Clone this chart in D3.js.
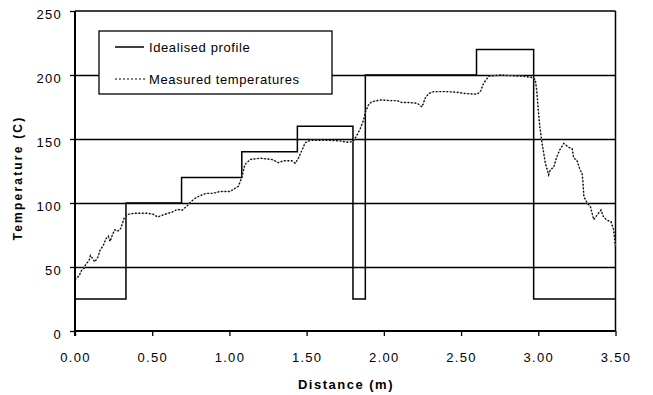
<!doctype html>
<html>
<head>
<meta charset="UTF-8">
<title>Temperature profile</title>
<script src="https://d3js.org/d3.v7.min.js"></script>
<style>
  body { margin: 0; background: #fff; }
  * { font-family: "Liberation Sans", Arial, sans-serif; }
</style>
</head>
<body>
<svg id="chart" width="653" height="395"></svg>
<script>
// idealised step profile (value holds until next x)
var idealX = [0, 0.33, 0.69, 1.08, 1.44, 1.80, 1.88, 2.60, 2.97, 3.50];
var idealY = [25, 100, 120, 140, 160, 25, 200, 220, 25, 25];

// measured temperatures
var measX = [0.00, 0.026, 0.041, 0.058, 0.069, 0.091, 0.10, 0.112, 0.128, 0.149, 0.162, 0.184, 0.199, 0.216, 0.227,
  0.242, 0.257, 0.274, 0.292, 0.307, 0.318, 0.339, 0.382, 0.469, 0.512, 0.534, 0.577, 0.631, 0.663, 0.696,
  0.728, 0.75, 0.782, 0.815, 0.847, 0.89, 0.94, 1.005, 1.037, 1.058, 1.08, 1.10, 1.134, 1.199, 1.275,
  1.318, 1.35, 1.404, 1.426, 1.447, 1.469, 1.49, 1.523, 1.63, 1.717, 1.76, 1.80, 1.826, 1.847, 1.869,
  1.88, 1.90, 1.92, 1.977, 2.04, 2.085, 2.117, 2.16, 2.215, 2.247, 2.268, 2.29, 2.322, 2.409, 2.474,
  2.527, 2.603, 2.625, 2.646, 2.679, 2.754, 2.82, 2.905, 2.96, 2.98, 2.99, 3.00, 3.01, 3.025, 3.035,
  3.046, 3.067, 3.078, 3.10, 3.117, 3.139, 3.165, 3.197, 3.219, 3.23, 3.25, 3.27, 3.284, 3.29, 3.295,
  3.317, 3.338, 3.359, 3.38, 3.406, 3.423, 3.445, 3.471, 3.488, 3.499];
var measY = [40, 43, 47, 49, 52, 55, 59, 57, 54, 58, 63, 67, 72, 74, 70,
  75, 79, 78, 79, 84, 88, 91, 92, 92, 91, 89, 91, 93, 95, 94.5,
  98, 101, 104, 106, 107.5, 107.5, 109, 109, 111.5, 113, 120, 130, 134, 135, 134,
  131.5, 133, 133, 131, 135, 141, 147, 149, 149, 148.5, 147.5, 148, 153, 158, 165,
  171, 176.5, 179, 180.5, 180, 180, 178.5, 178.5, 178, 175, 182, 185.5, 187, 187, 186.5,
  185.5, 185, 187, 193.5, 199, 200, 199.5, 199, 198, 196.5, 188, 172.5, 159.5, 146.5, 139,
  131, 122, 126, 128, 135, 141.5, 146.5, 143.5, 142.5, 135, 133.5, 126, 123, 115.5, 105,
  100, 97, 87, 90.5, 94.5, 89, 86.5, 85.5, 79, 66];

var yTicks = [0, 50, 100, 150, 200, 250];
var xTicks = [0, 0.5, 1, 1.5, 2, 2.5, 3, 3.5];
var seriesNames = ["Idealised profile", "Measured temperatures"];

var svg = d3.select("#chart");
var plotL = 75, plotR = 615.5, plotT = 11, plotB = 331;

var x = d3.scaleLinear().domain([0, 3.5]).range([plotL, plotR]);
var y = d3.scaleLinear().domain([0, 250]).range([plotB, plotT]);

// gridlines
svg.append("g").selectAll("line")
  .data(yTicks.filter(d => d > 0 && d < 250))
  .enter().append("line")
    .attr("x1", plotL).attr("x2", plotR)
    .attr("y1", d => y(d) + 0.5).attr("y2", d => y(d) + 0.5)
    .attr("stroke", "#000").attr("stroke-width", 1.3);

// frame top/right
svg.append("line").attr("x1", plotL).attr("x2", plotR).attr("y1", y(250)).attr("y2", y(250))
  .attr("stroke", "#000").attr("stroke-width", 1.5);
svg.append("line").attr("x1", plotR).attr("x2", plotR).attr("y1", y(250)).attr("y2", y(0))
  .attr("stroke", "#000").attr("stroke-width", 1.5);

// idealised
var idealData = idealX.map((d, i) => [d, idealY[i]]);
svg.append("path")
  .datum(idealData)
  .attr("fill", "none").attr("stroke", "#000").attr("stroke-width", 1.5)
  .attr("d", d3.line().x(d => x(d[0])).y(d => y(d[1])).curve(d3.curveStepAfter));

// measured
var measData = measX.map((d, i) => [d, measY[i]]);
var measLine = d3.line().x(d => x(d[0])).y(d => y(d[1]));
svg.append("path")
  .datum(measData)
  .attr("fill", "none").attr("stroke", "#999").attr("stroke-width", 0.8)
  .attr("d", measLine);
svg.append("path")
  .datum(measData)
  .attr("fill", "none").attr("stroke", "#000").attr("stroke-width", 1.4)
  .attr("stroke-dasharray", "1.5,2")
  .attr("d", measLine);

// axes
var yAxis = svg.append("g")
  .attr("transform", "translate(" + plotL + ",0)")
  .call(d3.axisLeft(y).tickValues(yTicks).tickSize(5).tickPadding(8).tickFormat(d3.format("d")));
var xAxis = svg.append("g")
  .attr("transform", "translate(0," + plotB + ")")
  .call(d3.axisBottom(x).tickValues(xTicks).tickSize(5).tickPadding(17).tickFormat(d3.format(".2f")));

[yAxis, xAxis].forEach(function(a) {
  a.select(".domain").attr("stroke", "#000").attr("stroke-width", 2);
  a.selectAll(".tick line").attr("stroke", "#000").attr("stroke-width", 1.3);
  a.selectAll("text").attr("font-size", 13).attr("fill", "#000")
    .attr("font-family", "'Liberation Sans', Arial, sans-serif")
    .attr("letter-spacing", "1.3px");
});
yAxis.selectAll("text").attr("dy", "0.55em");
yAxis.select(".domain").attr("d", "M0," + (plotB + 5) + "V" + plotT);
xAxis.select(".domain").attr("d", "M" + plotL + ",0H" + plotR);

// axis titles
svg.append("text")
  .attr("x", 346).attr("y", 389)
  .attr("text-anchor", "middle")
  .attr("font-size", 13).attr("font-weight", "bold")
  .attr("letter-spacing", "1.5px")
  .text("Distance (m)");
svg.append("text")
  .attr("transform", "translate(22,178) rotate(-90)")
  .attr("text-anchor", "middle")
  .attr("font-size", 12).attr("font-weight", "bold")
  .attr("letter-spacing", "2.2px")
  .text("Temperature (C)");

// legend
var lg = svg.append("g");
lg.append("rect")
  .attr("x", 99).attr("y", 31).attr("width", 233).attr("height", 63)
  .attr("fill", "#fff").attr("stroke", "#000").attr("stroke-width", 1.3);
lg.append("line").attr("x1", 115).attr("x2", 144).attr("y1", 47).attr("y2", 47)
  .attr("stroke", "#000").attr("stroke-width", 1.5);
lg.append("line").attr("x1", 115).attr("x2", 146).attr("y1", 79).attr("y2", 79)
  .attr("stroke", "#000").attr("stroke-width", 1).attr("stroke-dasharray", "2,2");
lg.selectAll("text.leg")
  .data(seriesNames)
  .enter().append("text")
    .attr("class", "leg")
    .attr("x", 149)
    .attr("y", (d, i) => 52 + i * 32)
    .attr("font-size", 13)
    .attr("letter-spacing", "0.6px")
    .text(d => d);
</script>
</body>
</html>
